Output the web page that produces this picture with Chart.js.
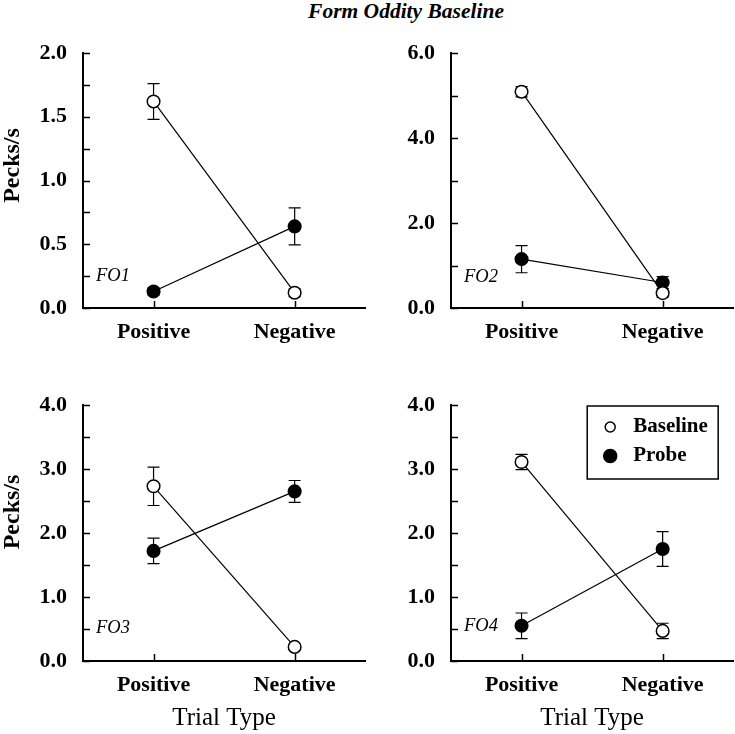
<!DOCTYPE html>
<html lang="en">
<head>
<meta charset="UTF-8">
<title>Form Oddity Baseline</title>
<script src="https://cdn.jsdelivr.net/npm/chart.js"></script>
<style>
  body { margin: 0; background: #fff; overflow: hidden; }
  .figure { position: relative; width: 735px; height: 734px; overflow: hidden; font-family: 'Liberation Serif', 'Times New Roman', serif; }
  .figure canvas { position: absolute; }
  .title { position: absolute; left: 256px; top: 0; width: 300px; text-align: center; font-style: italic; font-weight: bold; font-size: 21.5px; line-height: 22px; }
</style>
</head>
<body>
<div class="figure">
  <div class="title">Form Oddity Baseline</div>
  <canvas id="fo1" width="373" height="367" style="left:0;top:0"></canvas>
  <canvas id="fo2" width="373" height="367" style="left:368px;top:0"></canvas>
  <canvas id="fo3" width="373" height="367" style="left:0;top:367px"></canvas>
  <canvas id="fo4" width="373" height="367" style="left:368px;top:367px"></canvas>
</div>
<script>
// Data
const categories = ['Positive', 'Negative'];

const fo1Baseline = [1.62, 0.12];
const fo1BaselineErr = [0.14, 0.03];
const fo1Probe = [0.13, 0.64];
const fo1ProbeErr = [0.03, 0.145];

const fo2Baseline = [5.09, 0.35];
const fo2BaselineErr = [0.12, 0.1];
const fo2Probe = [1.15, 0.6];
const fo2ProbeErr = [0.32, 0.14];

const fo3Baseline = [2.73, 0.22];
const fo3BaselineErr = [0.3, 0.04];
const fo3Probe = [1.72, 2.65];
const fo3ProbeErr = [0.2, 0.17];

const fo4Baseline = [3.11, 0.47];
const fo4BaselineErr = [0.12, 0.12];
const fo4Probe = [0.55, 1.75];
const fo4ProbeErr = [0.2, 0.27];

const serif = "'Liberation Serif', 'Times New Roman', serif";

// Error bars drawn under the markers
const errorBars = {
  id: 'errorBars',
  beforeDatasetsDraw(chart) {
    const ctx = chart.ctx;
    const yScale = chart.scales.y;
    ctx.save();
    ctx.strokeStyle = '#000';
    ctx.lineWidth = 1.2;
    chart.data.datasets.forEach((ds, i) => {
      const meta = chart.getDatasetMeta(i);
      meta.data.forEach((pt, j) => {
        const e = ds.err[j];
        const top = yScale.getPixelForValue(ds.data[j] + e);
        const bot = yScale.getPixelForValue(ds.data[j] - e);
        ctx.beginPath();
        ctx.moveTo(pt.x, top);
        ctx.lineTo(pt.x, bot);
        ctx.moveTo(pt.x - 6, top);
        ctx.lineTo(pt.x + 6, top);
        ctx.moveTo(pt.x - 6, bot);
        ctx.lineTo(pt.x + 6, bot);
        ctx.stroke();
      });
    });
    ctx.restore();
  }
};

// Tick marks pointing into the plot
const innerTicks = {
  id: 'innerTicks',
  beforeDatasetsDraw(chart) {
    const ctx = chart.ctx;
    const { left, bottom } = chart.chartArea;
    const x = chart.scales.x, y = chart.scales.y;
    ctx.save();
    ctx.strokeStyle = '#000';
    ctx.lineWidth = 1.5;
    ctx.beginPath();
    y.ticks.forEach((t) => {
      const py = Math.round(y.getPixelForValue(t.value)) + 0.5;
      ctx.moveTo(left, py);
      ctx.lineTo(left + 7, py);
    });
    categories.forEach((c, i) => {
      const px = Math.round(x.getPixelForValue(i)) + 0.5;
      ctx.moveTo(px, bottom);
      ctx.lineTo(px, bottom - 7);
    });
    ctx.stroke();
    ctx.restore();
  }
};

// Subject label, y-axis title and legend
const panelText = {
  id: 'panelText',
  afterDraw(chart, args, opts) {
    const ctx = chart.ctx;
    const area = chart.chartArea;
    const y = chart.scales.y;
    ctx.save();
    ctx.fillStyle = '#000';
    ctx.font = 'italic 18.5px ' + serif;
    ctx.textAlign = 'left';
    ctx.textBaseline = 'middle';
    ctx.fillText(opts.subject, area.left + 13, y.getPixelForValue(opts.subjectAt));

    if (opts.yTitle) {
      ctx.save();
      ctx.translate(19, (area.top + area.bottom) / 2 + opts.yTitleShift);
      ctx.rotate(-Math.PI / 2);
      ctx.font = 'bold 24px ' + serif;
      ctx.textAlign = 'center';
      ctx.textBaseline = 'alphabetic';
      ctx.fillText(opts.yTitle, 0, 0);
      ctx.restore();
    }

    if (opts.legend) {
      const bx = area.right - 146, by = area.top + 1, bw = 131, bh = 73;
      ctx.lineWidth = 1.5;
      ctx.strokeStyle = '#000';
      ctx.strokeRect(bx, by, bw, bh);
      ctx.font = 'bold 21px ' + serif;
      chart.data.datasets.forEach((ds, i) => {
        const my = by + 21 + i * 29;
        ctx.beginPath();
        ctx.arc(bx + 23, my, i === 0 ? 5 : 6.5, 0, Math.PI * 2);
        ctx.fillStyle = ds.pointBackgroundColor;
        ctx.fill();
        ctx.lineWidth = 1.5;
        ctx.stroke();
        ctx.fillStyle = '#000';
        ctx.fillText(ds.label, bx + 46, my);
      });
    }
    ctx.restore();
  }
};

function makePanel(id, cfg) {
  const series = (label, data, err, fill) => ({
    label, data, err,
    borderColor: '#000',
    borderWidth: 1.2,
    pointRadius: 6.3,
    pointBorderWidth: 1.5,
    pointBorderColor: '#000',
    pointBackgroundColor: fill,
    tension: 0
  });
  new Chart(document.getElementById(id), {
    type: 'line',
    data: {
      labels: categories,
      datasets: [
        series('Baseline', cfg.baseline, cfg.baselineErr, '#fff'),
        series('Probe', cfg.probe, cfg.probeErr, '#000')
      ]
    },
    options: {
      responsive: false,
      animation: false,
      layout: { padding: { top: cfg.padTop, right: 2, left: 0, bottom: 0 } },
      plugins: {
        legend: { display: false },
        tooltip: { enabled: false },
        panelText: {
          subject: cfg.subject,
          subjectAt: cfg.subjectAt,
          yTitle: cfg.yTitle,
          yTitleShift: cfg.yTitleShift,
          legend: cfg.legend
        }
      },
      scales: {
        x: {
          offset: true,
          grid: { display: false },
          border: { color: '#000', width: 2 },
          ticks: { color: '#000', padding: 3, font: { family: serif, size: 22, weight: 'bold' } },
          title: {
            display: cfg.xTitle,
            text: 'Trial Type',
            color: '#000',
            padding: { bottom: 1 },
            font: { family: serif, size: 25, lineHeight: 1.2 }
          },
          afterFit(scale) { scale.height = cfg.xHeight; }
        },
        y: {
          min: 0,
          max: cfg.max,
          grid: { display: false },
          border: { color: '#000', width: 2 },
          ticks: {
            stepSize: cfg.step,
            color: '#000',
            padding: 8,
            font: { family: serif, size: 22, weight: 'bold' },
            callback: (v) => {
              const r = v / cfg.labelStep;
              return Math.abs(r - Math.round(r)) < 1e-6 ? v.toFixed(1) : '';
            }
          },
          afterFit(scale) { scale.width = 83; }
        }
      }
    },
    plugins: [errorBars, innerTicks, panelText]
  });
}

makePanel('fo1', {
  baseline: fo1Baseline, baselineErr: fo1BaselineErr, probe: fo1Probe, probeErr: fo1ProbeErr,
  max: 2, step: 0.25, labelStep: 0.5,
  subject: 'FO1', subjectAt: 0.25,
  yTitle: 'Pecks/s', yTitleShift: -15,
  padTop: 53, xHeight: 59, xTitle: false
});
makePanel('fo2', {
  baseline: fo2Baseline, baselineErr: fo2BaselineErr, probe: fo2Probe, probeErr: fo2ProbeErr,
  max: 6, step: 1, labelStep: 2,
  subject: 'FO2', subjectAt: 0.73,
  padTop: 53, xHeight: 59, xTitle: false
});
makePanel('fo3', {
  baseline: fo3Baseline, baselineErr: fo3BaselineErr, probe: fo3Probe, probeErr: fo3ProbeErr,
  max: 4, step: 0.5, labelStep: 1,
  subject: 'FO3', subjectAt: 0.52,
  yTitle: 'Pecks/s', yTitleShift: -21,
  padTop: 38, xHeight: 73, xTitle: true
});
makePanel('fo4', {
  baseline: fo4Baseline, baselineErr: fo4BaselineErr, probe: fo4Probe, probeErr: fo4ProbeErr,
  max: 4, step: 0.5, labelStep: 1,
  subject: 'FO4', subjectAt: 0.54,
  legend: true,
  padTop: 38, xHeight: 73, xTitle: true
});
</script>
</body>
</html>
